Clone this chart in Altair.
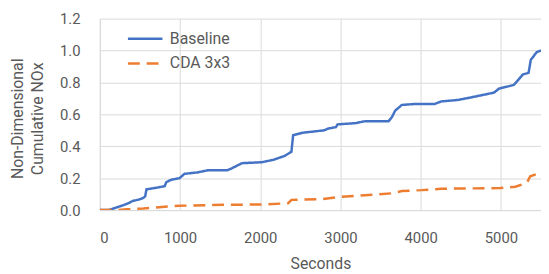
import altair as alt
import pandas as pd

series_names = ["Baseline", "CDA 3x3"]

baseline_x = [0, 111, 200, 290, 357, 410, 480, 533, 565, 582, 706, 809, 829, 890, 994, 1055, 1158, 1219, 1342,
              1589, 1650, 1773, 2020, 2164, 2307, 2389, 2410, 2533, 2697, 2799, 2841, 2943, 2964, 3190,
              3292, 3600, 3641, 3682, 3765, 3928, 4175, 4257, 4462, 4627, 4914, 4975, 5160, 5222, 5274,
              5345, 5373, 5406, 5447, 5500]
baseline_y = [0.0, 0.0, 0.015, 0.03, 0.043, 0.057, 0.065, 0.074, 0.085, 0.13, 0.14, 0.15, 0.175, 0.19, 0.20,
              0.227, 0.233, 0.236, 0.249, 0.249, 0.263, 0.294, 0.30, 0.315, 0.34, 0.366, 0.469, 0.485,
              0.494, 0.50, 0.51, 0.52, 0.537, 0.545, 0.556, 0.557, 0.582, 0.623, 0.659, 0.665, 0.665,
              0.681, 0.69, 0.706, 0.736, 0.761, 0.784, 0.819, 0.85, 0.86, 0.942, 0.963, 0.99, 1.0]

cda_x = [0, 200, 336, 542, 870, 994, 1568, 2020, 2348, 2389, 2758, 2984, 3641, 3765, 4011, 4257,
         4996, 5181, 5324, 5366, 5500]
cda_y = [0.0, 0.0, 0.005, 0.01, 0.023, 0.027, 0.033, 0.035, 0.043, 0.064, 0.068, 0.082, 0.105, 0.119,
         0.125, 0.134, 0.138, 0.146, 0.171, 0.212, 0.235]

rows = []
for i, (x, y) in enumerate(zip(baseline_x, baseline_y)):
    rows.append({"s": series_names[0], "x": x, "y": y, "o": i})
for i, (x, y) in enumerate(zip(cda_x, cda_y)):
    rows.append({"s": series_names[1], "x": x, "y": y, "o": i})
df = pd.DataFrame(rows)

FONT = "Roboto"
GREY = "#595959"

chart = alt.Chart(df).mark_line(strokeWidth=2.5, strokeCap="butt", clip=True).encode(
    x=alt.X("x:Q", title="Seconds",
            scale=alt.Scale(domain=[0, 5500], nice=False),
            axis=alt.Axis(values=[0, 1000, 2000, 3000, 4000, 5000], format="d",
                          labelPadding=21, titlePadding=10, tickSize=0)),
    y=alt.Y("y:Q", title=["Non-Dimensional", "Cumulative NOx"],
            scale=alt.Scale(domain=[0, 1.2], nice=False),
            axis=alt.Axis(values=[0, 0.2, 0.4, 0.6, 0.8, 1.0, 1.2], format=".1f",
                          labelPadding=20, titlePadding=14, tickSize=0,
                          titleLineHeight=20, titleFontSize=16, titleY=101)),
    color=alt.Color("s:N", scale=alt.Scale(domain=series_names, range=["#4472C4", "#ED7D31"]),
                    legend=alt.Legend(title=None, orient="none", legendX=27, legendY=8,
                                      symbolType="stroke", symbolSize=1225, symbolStrokeWidth=2.5,
                                      labelFontSize=16, labelFont=FONT, labelColor=GREY,
                                      labelOffset=6, clipHeight=25, rowPadding=0)),
    strokeDash=alt.StrokeDash("s:N", scale=alt.Scale(domain=series_names, range=[[1, 0], [12, 7]]),
                              legend=None),
    order="o:Q",
).properties(
    width=447, height=194,
    padding={"left": 93, "top": 9, "right": 0, "bottom": 62},
    autosize=alt.AutoSizeParams(type="none"),
).configure_view(stroke=None).configure_axis(
    labelFont=FONT, titleFont=FONT, labelFontSize=15, titleFontSize=16,
    labelColor=GREY, titleColor=GREY, titleFontWeight="normal",
    gridColor="#d9d9d9", domainColor="#d9d9d9", grid=True,
)

chart.save("out.html", embed_options={"renderer": "svg", "actions": False})
